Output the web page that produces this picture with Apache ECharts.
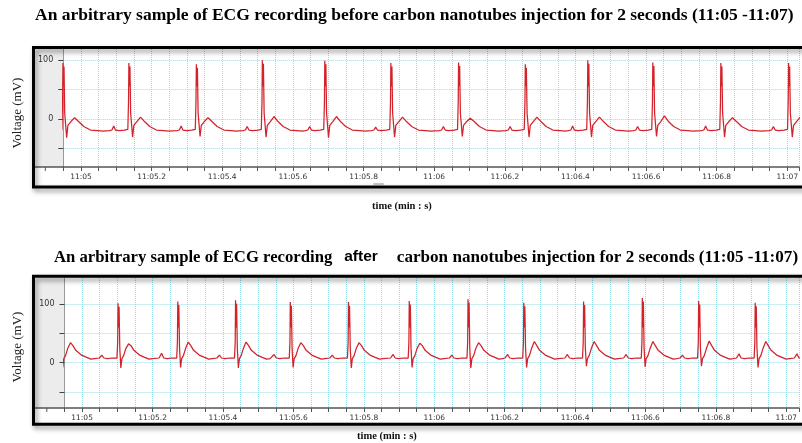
<!DOCTYPE html>
<html><head><meta charset="utf-8">
<script src="https://cdn.jsdelivr.net/npm/echarts@6/dist/echarts.min.js"></script>
<style>html,body{margin:0;padding:0;background:#fff}#c{width:802px;height:443px}</style>
</head><body><div id="c"></div>
<script>
// ---- Data (time in seconds after 11:05, voltage in mV) ----
const xTickLabels = ['11:05','11:05.2','11:05.4','11:05.6','11:05.8','11:06','11:06.2','11:06.4','11:06.6','11:06.8','11:07'];
const yTickLabels = [0, 100];

// Before injection: R-peak times and per-beat landmark values
const beforeRTime   = [-0.048, 0.1387, 0.3297, 0.5166, 0.6934, 0.8804, 1.0722, 1.2611, 1.438, 1.6221, 1.8147, 2.0065];
const beforeRPeak   = [95, 95, 93, 100, 99, 95, 96, 93, 100, 96, 95, 95];
const beforeSTrough = [-32, -31, -30, -31, -32, -31, -30, -31, -31, -30, -31, -31];
const beforeTPeak   = [2, 3, 2, 4, 4, 3, 1, 3, 3, 5, 2, 3];
const beforePPeak   = [-13, -12, -12, -13, -13, -14, -13, -13, -12, -13, -12, -13];
// waveform landmarks of one beat (offset from R in s, value in mV or landmark key)
const beforeShape = [
  [-0.058, -20], [-0.051, -19], [-0.046, 'P'], [-0.041, -19], [-0.030, -20], [-0.016, -19],
  [-0.006, -18], [-0.004, 30], [-0.003, 'R'], [-0.0015, 55], [0, 'R2'], [0.002, 10],
  [0.0075, 'S'], [0.011, -11], [0.019, -5], [0.030, 'T'], [0.042, -5], [0.056, -13],
  [0.075, -19], [0.095, -20], [0.110, -21]
];

// After injection
const afterRTime   = [-0.060, 0.105, 0.2747, 0.4388, 0.5943, 0.7595, 0.9321, 1.099, 1.2574, 1.4272, 1.594, 1.754, 1.9146, 2.079];
const afterRPeak   = [102, 101, 104, 106, 103, 103, 105, 108, 102, 104, 110, 105, 102, 104];
const afterSTrough = [-8, -9, -8, -9, -8, -9, -8, -9, -8, -6, -7, -6, -8, -8];
const afterTPeak   = [34, 32, 35, 35, 34, 34, 33, 34, 36, 36, 36, 37, 36, 36];
const afterPPeak   = [14, 13, 16, 13, 14, 13, 14, 13, 14, 14, 14, 13, 15, 15];
const afterShape = [
  [-0.056, 8], [-0.049, 'P'], [-0.043, 8], [-0.033, 7], [-0.020, 8], [-0.006, 8],
  [-0.004, 35], [-0.003, 'R'], [-0.0015, 60], [0, 'R2'], [0.002, 25], [0.005, 'S'],
  [0.008, 7], [0.013, 12], [0.019, 24], [0.027, 'T'], [0.034, 29], [0.042, 21],
  [0.058, 13], [0.073, 9], [0.085, 6], [0.095, 7]
];

const beforeTitle = 'An arbitrary sample of ECG recording before carbon nanotubes injection for 2 seconds (11:05 -11:07)';
const afterTitleA = 'An arbitrary sample of ECG recording';
const afterTitleB = 'after';
const afterTitleC = 'carbon nanotubes injection for 2 seconds (11:05 -11:07)';

function buildTrace(rt, rp, st, tp, pp, shape) {
  const out = [];
  for (let i = 0; i < rt.length; i++) {
    for (const [dt, v] of shape) {
      let val = v;
      if (v === 'R') val = rp[i];
      else if (v === 'R2') val = rp[i] - 6;
      else if (v === 'S') val = st[i];
      else if (v === 'T') val = tp[i];
      else if (v === 'P') val = pp[i];
      out.push([+(rt[i] + dt).toFixed(5), val]);
    }
  }
  return out;
}
const beforeData = buildTrace(beforeRTime, beforeRPeak, beforeSTrough, beforeTPeak, beforePPeak, beforeShape);
const afterData  = buildTrace(afterRTime, afterRPeak, afterSTrough, afterTPeak, afterPPeak, afterShape);

function fmtTime(v) {
  const k = Math.round(v * 100);
  if (k < 0 || k % 20 !== 0) return '';
  return xTickLabels[k / 20] || '';
}
function fmtY(v) { return yTickLabels.indexOf(Math.round(v)) >= 0 && Math.abs(v - Math.round(v)) < 1e-6 ? String(Math.round(v)) : ''; }

const gridLine = { show: true, lineStyle: { color: '#92dde9', type: 'dotted', width: 1 } };
function xAx(i, max) {
  return {
    type: 'value', gridIndex: i, min: -0.05, max: max, interval: 0.05,
    axisLine: { show: true, onZero: false, lineStyle: { color: '#555', width: 1.5 } },
    axisTick: { show: true, length: 4, lineStyle: { color: '#555' } },
    axisLabel: { interval: 0, formatter: fmtTime, fontSize: 7.5, color: '#333', margin: 6, fontFamily: 'DejaVu Sans' },
    splitLine: gridLine
  };
}
function yAx(i, min, max) {
  return {
    type: 'value', gridIndex: i, min: min, max: max,
    axisLine: { show: true, onZero: false, lineStyle: { color: '#9a9a9a', width: 1 } },
    axisTick: { show: true, length: 5, customValues: [-50, 0, 50, 100], lineStyle: { color: '#444' } },
    axisLabel: { customValues: yTickLabels, formatter: fmtY, fontSize: 8, color: '#333', margin: 10, fontFamily: 'DejaVu Sans' },
    splitLine: gridLine
  };
}
const lineSeries = (i, data) => ({
  type: 'line', xAxisIndex: i, yAxisIndex: i, data: data, showSymbol: false, symbol: 'none',
  lineStyle: { color: '#d4222a', width: 1.25 }, animation: false, clip: true
});
const boxStyle = { fill: 'none', stroke: '#000', lineWidth: 3, shadowBlur: 5, shadowOffsetX: 2, shadowOffsetY: 3, shadowColor: 'rgba(0,0,0,0.45)' };
const titleFont = { fontFamily: 'Liberation Serif', fontWeight: 'bold', fontSize: 17.5, color: '#000' };
const title2Font = { fontFamily: 'Liberation Serif', fontWeight: 'bold', fontSize: 16.7, color: '#000' };
const title2FontC = { fontFamily: 'Liberation Serif', fontWeight: 'bold', fontSize: 17.1, color: '#000' };
const axisNameFont = { fontFamily: 'Liberation Serif', fontWeight: 'bold', fontSize: 10.5, color: '#111' };

const chart = echarts.init(document.getElementById('c'), null, { renderer: 'canvas' });
chart.setOption({
  animation: false,
  backgroundColor: '#fff',
  title: [
    { text: beforeTitle, left: 35, top: 6, padding: 0, textStyle: titleFont },
    { text: '{a|' + afterTitleA + '}{b|' + afterTitleB + '}{c|' + afterTitleC + '}', left: 54, top: 249, padding: 0,
      textStyle: { rich: {
        a: title2Font,
        b: { fontFamily: 'Liberation Sans', fontWeight: 'bold', fontSize: 15.5, color: '#000', padding: [0, 19, 1, 12] },
        c: title2FontC
      } } },
    { text: 'time (min : s)', left: 372, top: 201, padding: 0, textStyle: axisNameFont },
    { text: 'time (min : s)', left: 357, top: 431, padding: 0, textStyle: axisNameFont }
  ],
  grid: [
    { left: 63.3, top: 49, right: 0, height: 118 },
    { left: 64.5, top: 278, right: 0, height: 130 }
  ],
  xAxis: [ xAx(0, 2.033), xAx(1, 2.036) ],
  yAxis: [ yAx(0, -82, 119), yAx(1, -77, 144) ],
  series: [ lineSeries(0, beforeData), lineSeries(1, afterData) ],
  graphic: [
    { type: 'rect', z: -1, shape: { x: 35, y: 49, width: 28.3, height: 118 }, style: { fill: '#ececec' } },
    { type: 'rect', z: -1, shape: { x: 35, y: 278, width: 29.5, height: 130 }, style: { fill: '#ececec' } },
    { type: 'line', shape: { x1: 35, y1: 167, x2: 63.3, y2: 167 }, style: { stroke: '#555', lineWidth: 1.5 } },
    { type: 'line', shape: { x1: 45.3, y1: 167, x2: 45.3, y2: 171 }, style: { stroke: '#555', lineWidth: 1 } },
    { type: 'line', shape: { x1: 35, y1: 408, x2: 64.5, y2: 408 }, style: { stroke: '#555', lineWidth: 1.5 } },
    { type: 'line', shape: { x1: 46.8, y1: 408, x2: 46.8, y2: 412 }, style: { stroke: '#555', lineWidth: 1 } },
    { type: 'rect', shape: { x: 373, y: 183, width: 11, height: 2, r: 1 }, style: { fill: '#c4c4c4' } },
    { type: 'rect', z: 100, shape: { x: 33.5, y: 47.5, width: 800, height: 139.5 }, style: boxStyle },
    { type: 'rect', z: 100, shape: { x: 33.5, y: 276.3, width: 800, height: 148 }, style: boxStyle },
    { type: 'text', x: 18, y: 113, rotation: Math.PI / 2,
      style: { text: 'Voltage (mV)', font: '13px "Liberation Serif"', fill: '#222', align: 'center', verticalAlign: 'middle' } },
    { type: 'text', x: 18, y: 347, rotation: Math.PI / 2,
      style: { text: 'Voltage (mV)', font: '13px "Liberation Serif"', fill: '#222', align: 'center', verticalAlign: 'middle' } }
  ]
});
</script>
</body></html>
